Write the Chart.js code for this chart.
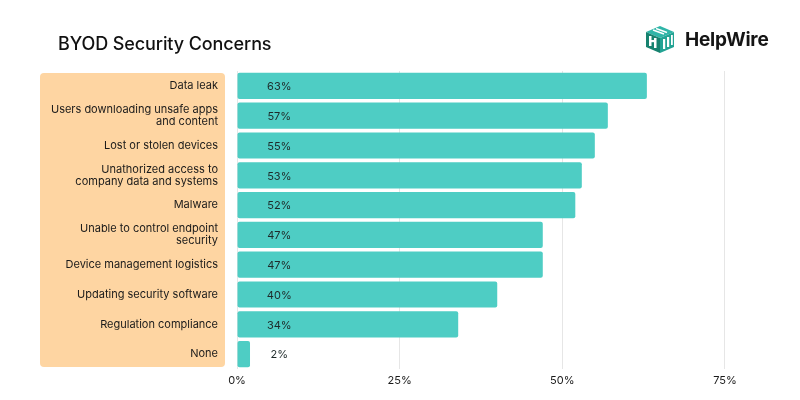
<!DOCTYPE html>
<html>
<head>
<meta charset="utf-8">
<script src="https://cdn.jsdelivr.net/npm/chart.js@4.4.1/dist/chart.umd.min.js"></script>
<style>
  html, body { margin: 0; padding: 0; background: #fff; }
  #wrap { position: relative; width: 800px; height: 400px; font-family: Inter, "Noto Sans", sans-serif; }
  #title { position: absolute; left: 58px; top: 33px; font-size: 18px; font-weight: 500; color: #111; letter-spacing: -0.1px; }
  #logo { position: absolute; left: 644px; top: 24px; display: flex; align-items: center; }
  #logo span { font-size: 19px; font-weight: 700; color: #151515; margin-left: 9px; letter-spacing: -0.2px; }
  canvas { position: absolute; left: 0; top: 0; }
</style>
</head>
<body>
<div id="wrap">
  <canvas id="myChart" width="800" height="400"></canvas>
  <div id="title">BYOD Security Concerns</div>
  <div id="logo">
    <svg width="32" height="30" viewBox="0 0 32 30">
      <polygon points="2,8 16,2 30,8 16,14" fill="#2fb5a8"/>
      <polygon points="2,8 16,14 16,29 2,23" fill="#17826f"/>
      <polygon points="16,14 30,8 30,23 16,29" fill="#23a394"/>
      <rect x="5" y="12" width="2.5" height="10" fill="#fff"/>
      <rect x="10" y="14" width="2.5" height="10" fill="#fff"/>
      <rect x="5" y="16" width="7" height="2.2" fill="#fff"/>
      <rect x="19" y="15" width="2.2" height="10" fill="#fff"/>
      <rect x="23" y="13" width="2.2" height="10" fill="#fff"/>
      <rect x="27" y="11" width="1.8" height="10" fill="#fff"/>
      <line x1="9" y1="6" x2="20" y2="10" stroke="#fff" stroke-width="1.4"/>
      <line x1="12" y1="4.5" x2="23" y2="8.5" stroke="#fff" stroke-width="1.4"/>
    </svg>
    <span>HelpWire</span>
  </div>
</div>
<script>
const categories = [
  'Data leak',
  ['Users downloading unsafe apps', 'and content'],
  'Lost or stolen devices',
  ['Unathorized access to', 'company data and systems'],
  'Malware',
  ['Unable to control endpoint', 'security'],
  'Device management logistics',
  'Updating security software',
  'Regulation compliance',
  'None'
];
const concernShare = [63, 57, 55, 53, 52, 47, 47, 40, 34, 2];
const xTickValues = [0, 25, 50, 75];

// orange box behind the category labels
const labelBox = {
  id: 'labelBox',
  beforeDraw(chart) {
    const { ctx, chartArea } = chart;
    ctx.save();
    ctx.fillStyle = '#fed5a2';
    ctx.beginPath();
    ctx.roundRect(40, chartArea.top + 2, chartArea.left - 12 - 40, chartArea.bottom - chartArea.top - 4, 4);
    ctx.fill();
    ctx.restore();
  }
};

// value labels at a fixed spot near the start of each bar
const valueLabels = {
  id: 'valueLabels',
  afterDatasetsDraw(chart) {
    const { ctx } = chart;
    const xs = chart.scales.x;
    const meta = chart.getDatasetMeta(0);
    ctx.save();
    ctx.font = '11px Inter, "Noto Sans", sans-serif';
    ctx.fillStyle = '#1e2a2a';
    ctx.textAlign = 'center';
    ctx.textBaseline = 'middle';
    meta.data.forEach((bar, i) => {
      ctx.fillText(concernShare[i] + '%', xs.getPixelForValue(6.5), bar.y + 1);
    });
    ctx.restore();
  }
};

const ctx = document.getElementById('myChart').getContext('2d');
const myChart = new Chart(ctx, {
  type: 'bar',
  data: {
    labels: categories,
    datasets: [{
      data: concernShare,
      backgroundColor: '#4ecdc4',
      borderRadius: 2,
      borderSkipped: false,
      barPercentage: 0.88,
      categoryPercentage: 1
    }]
  },
  options: {
    indexAxis: 'y',
    responsive: false,
    animation: false,
    layout: { padding: { top: 71, right: 10, left: 0, bottom: 0 } },
    scales: {
      x: {
        min: 0,
        max: 85,
        afterBuildTicks(scale) {
          scale.ticks = xTickValues.map(v => ({ value: v }));
        },
        afterFit(scale) { scale.height = 31; },
        border: { display: false },
        grid: { color: '#e6e6e6', drawTicks: false },
        ticks: {
          padding: 5,
          color: '#1a1a1a',
          font: { family: 'Inter, "Noto Sans", sans-serif', size: 11 },
          callback: v => v + '%'
        }
      },
      y: {
        afterFit(scale) { scale.width = 237; },
        border: { display: false },
        grid: { display: false, drawTicks: false },
        ticks: {
          padding: 19,
          color: '#1a1a1a',
          font: { family: 'Inter, "Noto Sans", sans-serif', size: 11, lineHeight: '12px' }
        }
      }
    },
    plugins: {
      legend: { display: false },
      tooltip: { enabled: false }
    }
  },
  plugins: [labelBox, valueLabels]
});
</script>
</body>
</html>
